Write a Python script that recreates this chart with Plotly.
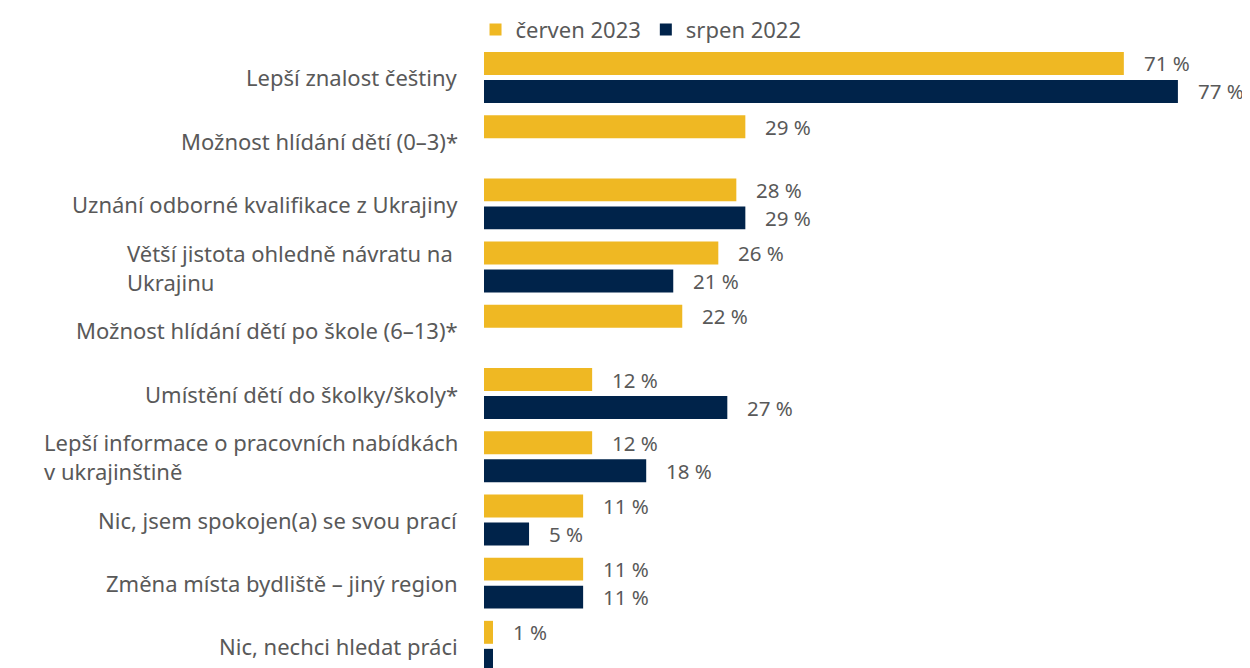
import plotly.graph_objects as go

categories = [
    "Lepší znalost češtiny",
    "Možnost hlídání dětí (0–3)*",
    "Uznání odborné kvalifikace z Ukrajiny",
    "Větší jistota ohledně návratu na <br>Ukrajinu",
    "Možnost hlídání dětí po škole (6–13)*",
    "Umístění dětí do školky/školy*",
    "Lepší informace o pracovních nabídkách<br>v ukrajinštině",
    "Nic, jsem spokojen(a) se svou prací",
    "Změna místa bydliště – jiný region",
    "Nic, nechci hledat práci",
]
cerven_2023 = [71, 29, 28, 26, 22, 12, 12, 11, 11, 1]
srpen_2022 = [77, None, 29, 21, None, 27, 18, 5, 11, 1]

series_names = ["červen 2023", "srpen 2022"]
colors = ["#EFB823", "#00234A"]
text_color = "#595959"
font_family = "Noto Sans, Open Sans, sans-serif"

fig = go.Figure()
for name, vals, col in zip(series_names, [cerven_2023, srpen_2022], colors):
    fig.add_trace(go.Bar(
        y=categories, x=vals, name=name, orientation="h",
        marker=dict(color=col, line=dict(width=0)),
        hoverinfo="x+name",
    ))

annotations = []
# category labels (left-aligned text blocks, right-aligned next to bars)
for cat in categories:
    annotations.append(dict(
        x=0, xref="paper", y=cat, yref="y", text=cat, showarrow=False,
        xanchor="right", yanchor="middle", align="left", xshift=-24,
        font=dict(size=22, color=text_color, family=font_family),
    ))
# value labels
for si, vals in enumerate([cerven_2023, srpen_2022]):
    for ci, v in enumerate(vals):
        if v is None:
            continue
        if si == 1 and ci == len(categories) - 1:
            continue  # label falls below the visible edge in the reference
        annotations.append(dict(
            x=v, xref="x", y=categories[ci], yref="y", text=f"{v} %",
            showarrow=False, xanchor="left", yanchor="middle",
            xshift=19, yshift=14 if si == 0 else -14, borderpad=0,
            font=dict(size=20.5, color=text_color, family=font_family),
        ))

fig.update_layout(
    width=1242, height=660,
    margin=dict(l=476, r=0, t=32, b=0),
    paper_bgcolor="white", plot_bgcolor="white",
    barmode="group", bargap=0.114, bargroupgap=0.18,
    font=dict(family=font_family, size=22, color=text_color),
    showlegend=True,
    legend=dict(
        orientation="h", xref="paper", x=0.205, xanchor="center",
        yref="paper", y=1.05, yanchor="top", bgcolor="rgba(0,0,0,0)",
        font=dict(size=22, color=text_color), itemwidth=30,
        traceorder="normal",
    ),
    xaxis=dict(range=[0, 85], visible=False, fixedrange=True),
    yaxis=dict(type="category", categoryorder="array", categoryarray=categories,
               range=[9.343, -0.593], showticklabels=False, showgrid=False,
               zeroline=False, showline=False, ticks=""),
    annotations=annotations,
)

fig.write_html("out.html")
